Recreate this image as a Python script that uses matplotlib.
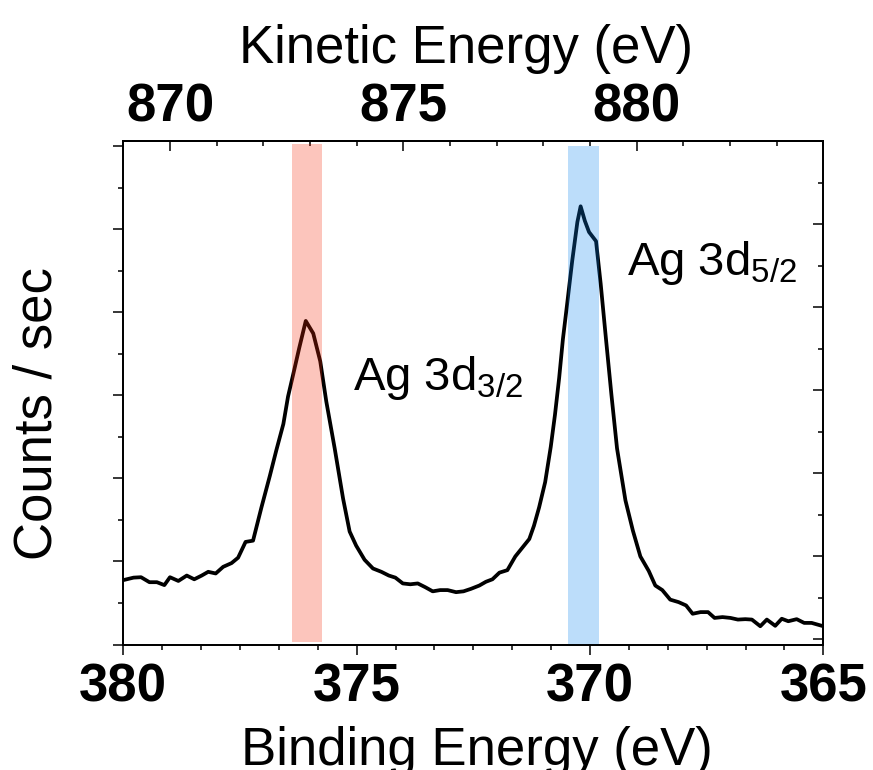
import matplotlib
matplotlib.use("Agg")
import matplotlib.pyplot as plt
from matplotlib.ticker import MultipleLocator, AutoMinorLocator, NullFormatter

plt.rcParams['font.family'] = ['Liberation Sans', 'DejaVu Sans']
plt.rcParams['mathtext.fontset'] = 'custom'
plt.rcParams['mathtext.rm'] = 'Liberation Sans'
plt.rcParams['mathtext.it'] = 'Liberation Sans:italic'
plt.rcParams['mathtext.bf'] = 'Liberation Sans:bold'

# ---- data ----
binding_energy = [380.0, 379.78, 379.62, 379.44, 379.28, 379.12, 379.00, 378.82, 378.64, 378.48,
                  378.32, 378.18, 378.02, 377.86, 377.68, 377.54, 377.38, 377.22, 377.04, 376.86,
                  376.72, 376.57, 376.47, 376.36, 376.23, 376.09, 375.93, 375.78, 375.65, 375.47,
                  375.29, 375.15, 375.01, 374.83, 374.65, 374.47, 374.31, 374.17, 374.01, 373.85,
                  373.69, 373.53, 373.37, 373.21, 373.05, 372.87, 372.71, 372.55, 372.37, 372.23,
                  372.09,
                  371.94, 371.77, 371.60, 371.45, 371.30, 371.20, 371.09, 370.96, 370.84, 370.75,
                  370.66, 370.58, 370.49, 370.38, 370.27, 370.20, 370.11, 370.02, 369.87, 369.77,
                  369.66, 369.54, 369.42, 369.24, 369.08, 368.92, 368.74, 368.60, 368.45, 368.28,
                  368.10, 367.94, 367.80, 367.63, 367.47, 367.33, 367.16, 366.99, 366.83, 366.67,
                  366.53, 366.35, 366.21, 366.03, 365.89, 365.75, 365.57, 365.41, 365.25, 365.0]
counts = [1.55, 1.61, 1.62, 1.50, 1.50, 1.43, 1.62, 1.53, 1.66, 1.57,
          1.66, 1.75, 1.71, 1.87, 1.96, 2.09, 2.47, 2.50, 3.30, 4.06,
          4.68, 5.31, 5.97, 6.50, 7.14, 7.79, 7.49, 6.82, 5.85, 4.72,
          3.51, 2.72, 2.38, 2.04, 1.83, 1.75, 1.66, 1.61, 1.47, 1.45,
          1.47, 1.38, 1.28, 1.31, 1.31, 1.26, 1.28, 1.34, 1.42, 1.51,
          1.57,
          1.73, 1.79, 2.12, 2.33, 2.54, 2.86, 3.30, 3.91, 4.76, 5.53,
          6.42, 7.35, 8.19, 9.24, 10.17, 10.55, 10.20, 9.93, 9.71, 8.68,
          7.39, 6.01, 4.72, 3.47, 2.74, 2.12, 1.77, 1.42, 1.31, 1.08,
          1.02, 0.94, 0.74, 0.78, 0.78, 0.64, 0.66, 0.64, 0.60, 0.61,
          0.60, 0.44, 0.60, 0.45, 0.62, 0.56, 0.61, 0.52, 0.52, 0.44]

be_ticks = [380, 375, 370, 365]
be_tick_labels = ['380', '375', '370', '365']
ke_ticks = [870, 875, 880]
ke_tick_labels = ['870', '875', '880']
photon_offset = 1249.0  # KE = photon_offset - BE

span_3d32 = (376.39, 375.75)
span_3d52 = (370.48, 369.81)
label_3d32 = 'Ag 3d$_{\\mathregular{3/2}}$'
label_3d52 = 'Ag 3d$_{\\mathregular{5/2}}$'

# ---- figure ----
W, H = 873, 770
fig = plt.figure(figsize=(W / 100, H / 100), dpi=100)
L, R, T, B = 123.3, 823.3, 141.5, 644.5
ax = fig.add_axes([L / W, (H - B) / H, (R - L) / W, (B - T) / H])

ax.plot(binding_energy, counts, color='black', lw=2.7, zorder=2)
ax.axvspan(*span_3d32, ymin=0.004, ymax=0.995, color=(0.96, 0.16, 0.03), alpha=0.27, lw=0, zorder=3)
ax.axvspan(*span_3d52, ymin=0.0, ymax=0.991, color=(0.04, 0.51, 0.94), alpha=0.27, lw=0, zorder=3)

ax.set_xlim(380, 365)
ax.set_ylim(0, 12.11)

spw = 1.3
for s in ax.spines.values():
    s.set_linewidth(spw)

tick_font = dict(family='Liberation Sans', weight='bold', size=38)

ax.set_xticks(be_ticks)
ax.set_xticklabels(be_tick_labels, fontdict=tick_font)
ax.xaxis.set_minor_locator(AutoMinorLocator(6))
ax.tick_params(axis='x', which='major', direction='out', length=7.2, width=1.1, pad=5.8, top=False)
ax.tick_params(axis='x', which='minor', direction='out', length=3.6, width=1.1, top=False)

ax.yaxis.set_major_locator(MultipleLocator(2))
ax.yaxis.set_minor_locator(MultipleLocator(1))
ax.yaxis.set_major_formatter(NullFormatter())
ax.tick_params(axis='y', which='major', direction='out', length=7.2, width=1.1, right=False)
ax.tick_params(axis='y', which='minor', direction='out', length=3.6, width=1.1, right=False)

# right axis ticks (inward, slightly offset)
axr = ax.twinx()
axr.set_ylim(-0.133, 12.0)
axr.yaxis.set_major_locator(MultipleLocator(2))
axr.yaxis.set_minor_locator(MultipleLocator(1))
axr.yaxis.set_major_formatter(NullFormatter())
axr.tick_params(axis='y', which='major', direction='in', length=7.2, width=1.1)
axr.tick_params(axis='y', which='minor', direction='in', length=3.6, width=1.1)
for s in axr.spines.values():
    s.set_linewidth(spw)

# top kinetic energy axis
top = ax.secondary_xaxis('top', functions=(lambda be: photon_offset - be, lambda ke: photon_offset - ke))
top.set_xticks(ke_ticks)
top.set_xticklabels(ke_tick_labels, fontdict=tick_font)
top.xaxis.set_minor_locator(MultipleLocator(1))
top.tick_params(axis='x', which='major', direction='in', length=7.2, width=1.1, pad=6.3)
top.tick_params(axis='x', which='minor', direction='in', length=3.6, width=1.1)
top.spines['top'].set_linewidth(spw)

label_font = dict(family='Liberation Sans', size=38)
top.set_xlabel('Kinetic Energy (eV)', fontdict=label_font)
top.xaxis.set_label_coords(0.4896, 1.1563, transform=ax.transAxes)
ax.set_xlabel('Binding Energy (eV)', fontdict=label_font)
ax.xaxis.set_label_coords(0.5046, -0.163)
ax.set_ylabel('Counts / sec', fontdict=label_font)
ax.yaxis.set_label_coords(-0.0864, 0.4592)

ax.text(375.08, 6.13, label_3d32, fontsize=34, ha='left', va='baseline', zorder=4)
ax.text(369.21, 8.895, label_3d52, fontsize=34, ha='left', va='baseline', zorder=4)

fig.savefig('out.png', dpi=100)
